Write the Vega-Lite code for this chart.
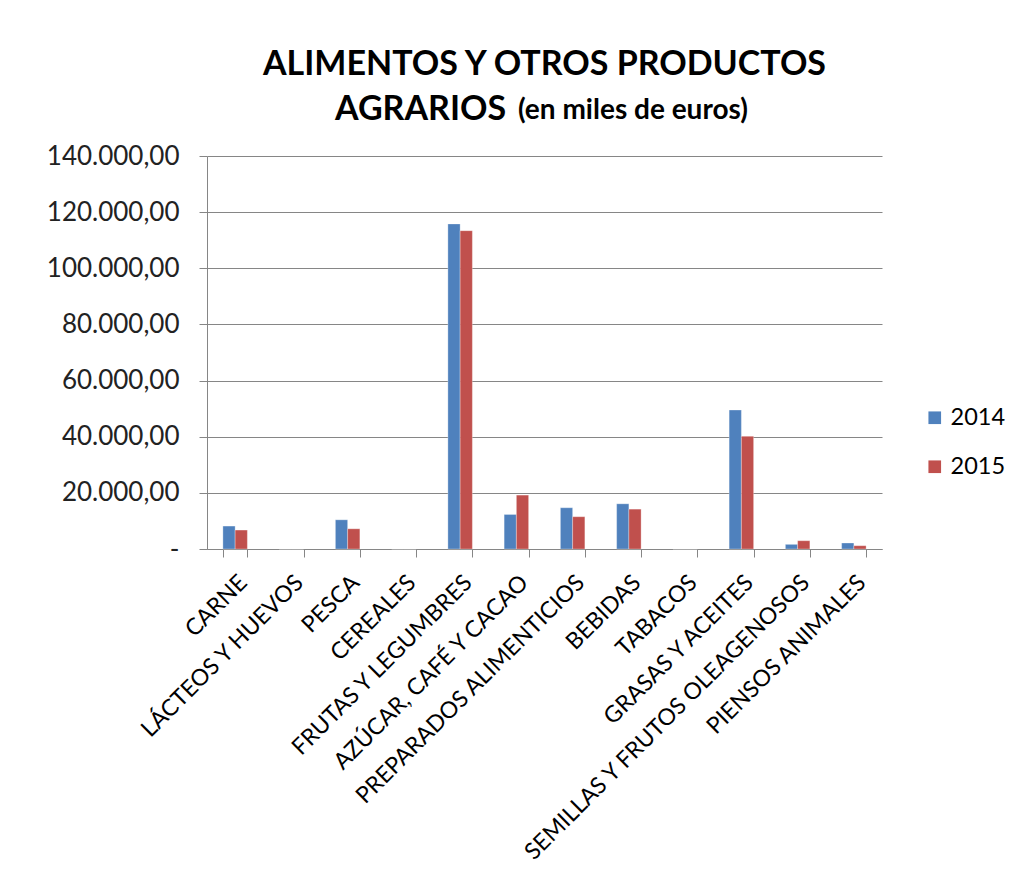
{
  "$schema": "https://vega.github.io/schema/vega-lite/v6.json",
  "autosize": "none",
  "padding": {"left": 207, "top": 156, "right": 142, "bottom": 322},
  "width": 675,
  "height": 393,
  "background": "white",
  "config": {
    "font": "Lato",
    "view": {"stroke": null}
  },
  "title": {
    "text": ["ALIMENTOS Y OTROS PRODUCTOS", "AGRARIOS\u00a0\u00a0\u00a0\u00a0\u00a0\u00a0\u00a0\u00a0\u00a0\u00a0\u00a0\u00a0\u00a0\u00a0\u00a0\u00a0\u00a0\u00a0\u00a0\u00a0\u00a0\u00a0\u00a0\u00a0\u00a0\u00a0\u00a0\u00a0\u00a0\u00a0\u200b"],
    "subtitle": "\u200b\u00a0\u00a0\u00a0\u00a0\u00a0\u00a0\u00a0\u00a0\u00a0\u00a0\u00a0\u00a0\u00a0\u00a0\u00a0\u00a0\u00a0\u00a0\u00a0\u00a0\u00a0\u00a0\u00a0\u00a0\u00a0\u00a0(en miles de euros)",
    "anchor": "middle",
    "font": "Lato",
    "fontSize": 34,
    "fontWeight": "bold",
    "color": "#000000",
    "lineHeight": 45,
    "subtitleFont": "Lato",
    "subtitleFontSize": 28,
    "subtitleFontWeight": "bold",
    "subtitleColor": "#000000",
    "subtitlePadding": -30,
    "offset": 16
  },
  "data": {
    "values": [
      {"categoria": "CARNE", "anio": "2014", "valor": 8170},
      {"categoria": "CARNE", "anio": "2015", "valor": 6750},
      {"categoria": "LÁCTEOS Y HUEVOS", "anio": "2014", "valor": 0},
      {"categoria": "LÁCTEOS Y HUEVOS", "anio": "2015", "valor": 0},
      {"categoria": "PESCA", "anio": "2014", "valor": 10400},
      {"categoria": "PESCA", "anio": "2015", "valor": 7200},
      {"categoria": "CEREALES", "anio": "2014", "valor": 0},
      {"categoria": "CEREALES", "anio": "2015", "valor": 0},
      {"categoria": "FRUTAS Y LEGUMBRES", "anio": "2014", "valor": 115800},
      {"categoria": "FRUTAS Y LEGUMBRES", "anio": "2015", "valor": 113400},
      {"categoria": "AZÚCAR, CAFÉ Y CACAO", "anio": "2014", "valor": 12300},
      {"categoria": "AZÚCAR, CAFÉ Y CACAO", "anio": "2015", "valor": 19200},
      {"categoria": "PREPARADOS ALIMENTICIOS", "anio": "2014", "valor": 14700},
      {"categoria": "PREPARADOS ALIMENTICIOS", "anio": "2015", "valor": 11500},
      {"categoria": "BEBIDAS", "anio": "2014", "valor": 16100},
      {"categoria": "BEBIDAS", "anio": "2015", "valor": 14200},
      {"categoria": "TABACOS", "anio": "2014", "valor": 0},
      {"categoria": "TABACOS", "anio": "2015", "valor": 0},
      {"categoria": "GRASAS Y ACEITES", "anio": "2014", "valor": 49500},
      {"categoria": "GRASAS Y ACEITES", "anio": "2015", "valor": 40150},
      {"categoria": "SEMILLAS Y FRUTOS OLEAGENOSOS", "anio": "2014", "valor": 1650},
      {"categoria": "SEMILLAS Y FRUTOS OLEAGENOSOS", "anio": "2015", "valor": 2950},
      {"categoria": "PIENSOS ANIMALES", "anio": "2014", "valor": 2130},
      {"categoria": "PIENSOS ANIMALES", "anio": "2015", "valor": 1170}
    ]
  },
  "mark": {"type": "bar", "stroke": "white", "strokeWidth": 0.5, "strokeOpacity": 0.6},
  "encoding": {
    "x": {
      "field": "categoria",
      "type": "nominal",
      "sort": null,
      "title": null,
      "scale": {"paddingInner": 0.565, "paddingOuter": 0.2825},
      "axis": {
        "labelAngle": -45,
        "labelFont": "Lato",
        "labelFontSize": 23,
        "labelColor": "#000000",
        "labelPadding": 14,
        "labelLimit": 500,
        "labelOverlap": false,
        "tickBand": "extent",
        "tickSize": 8,
        "tickColor": "#868686",
        "domainColor": "#868686",
        "domainWidth": 1,
        "grid": false
      }
    },
    "xOffset": {"field": "anio", "type": "nominal"},
    "y": {
      "field": "valor",
      "type": "quantitative",
      "title": null,
      "scale": {"domain": [0, 140000], "nice": false},
      "axis": {
        "values": [0, 20000, 40000, 60000, 80000, 100000, 120000, 140000],
        "labelExpr": "datum.value == 0 ? '-    ' : replace(replace(replace(format(datum.value, ',.2f'), regexp(',', 'g'), '#'), regexp('\\\\.', 'g'), ','), regexp('#', 'g'), '.')",
        "labelFont": "Lato",
        "labelFontSize": 26,
        "labelColor": "#222222",
        "labelPadding": 20,
        "tickSize": 8,
        "tickColor": "#868686",
        "domainColor": "#868686",
        "gridColor": "#868686",
        "gridWidth": 1,
        "grid": true
      }
    },
    "color": {
      "field": "anio",
      "type": "nominal",
      "title": null,
      "scale": {"domain": ["2014", "2015"], "range": ["#4F81BD", "#C0504D"]},
      "legend": {
        "orient": "none",
        "legendX": 716,
        "legendY": 250,
        "symbolType": "square",
        "symbolSize": 160,
        "symbolStrokeWidth": 0,
        "labelFont": "Lato",
        "labelFontSize": 23.5,
        "labelColor": "#000000",
        "rowPadding": 24,
        "labelOffset": 4
      }
    }
  }
}
